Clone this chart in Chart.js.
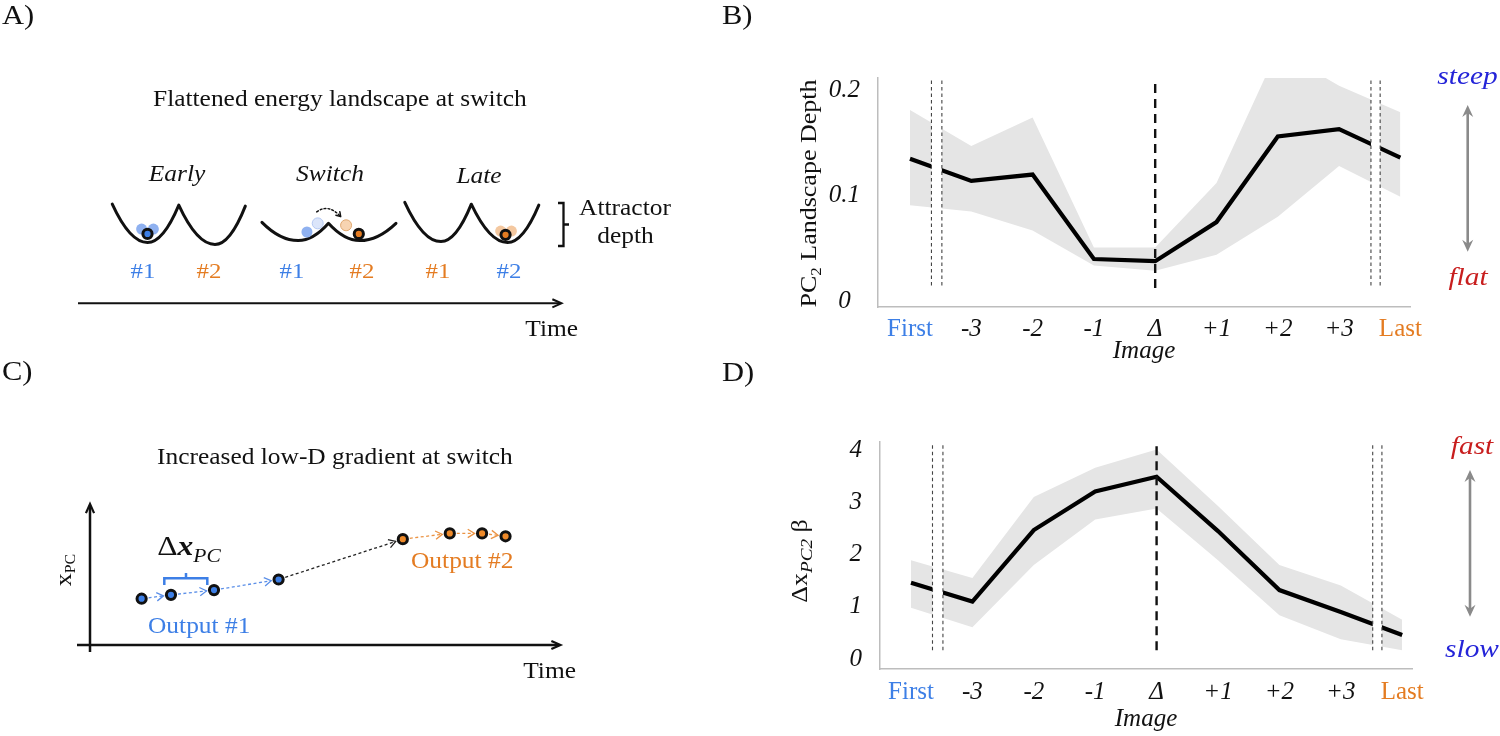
<!DOCTYPE html>
<html>
<head>
<meta charset="utf-8">
<title>Energy landscape and low-D gradient at switch</title>
<script src="https://cdn.jsdelivr.net/npm/chart.js"></script>
<style>
  body { margin: 0; background: #fff; }
  .figure { position: relative; width: 1500px; height: 736px; overflow: hidden; background: #fff; }
  .figure canvas { position: absolute; }
  #panelA { left: 0; top: 0; }
  #panelC { left: 0; top: 350px; }
  #panelB { left: 700px; top: 0; }
  #panelD { left: 700px; top: 350px; }
</style>
</head>
<body>
<div class="figure">
  <canvas id="panelA" width="700" height="370"></canvas>
  <canvas id="panelC" width="700" height="386"></canvas>
  <canvas id="panelB" width="800" height="370"></canvas>
  <canvas id="panelD" width="800" height="386"></canvas>
</div>

<script>
// ---------- data ----------
const imageLabels = ['First', '-3', '-2', '-1', 'Δ', '+1', '+2', '+3', 'Last'];
const imagePos = [0, 1, 2, 3, 4, 5, 6, 7, 8];
const switchPos = 4;
const breakPos = [0.35, 0.52, 7.52, 7.67];   // pairs of thin dashed lines

// B) PC2 landscape depth
const depthMean  = [0.135, 0.114, 0.120, 0.040, 0.038, 0.075, 0.156, 0.163, 0.136];
const depthUpper = [0.181, 0.147, 0.174, 0.051, 0.051, 0.112, 0.238, 0.204, 0.179];
const depthLower = [0.091, 0.085, 0.067, 0.034, 0.029, 0.044, 0.080, 0.128, 0.099];
const depthTicks = [0, 0.1, 0.2];

// D) gradient along PC2
const gradMean  = [1.46, 1.10, 2.47, 3.21, 3.49, 2.45, 1.32, 0.90, 0.46];
const gradUpper = [1.89, 1.55, 3.10, 3.66, 4.01, 2.93, 1.80, 1.41, 0.75];
const gradLower = [0.98, 0.61, 1.80, 2.67, 2.88, 1.89, 0.84, 0.38, 0.17];
const gradTicks = [0, 1, 2, 3, 4];

// C) schematic outputs: time step vs x_PC (arbitrary units)
const out1Time = [47, 77, 121, 187];
const out1PC   = [44, 48, 53, 64];
const out2Time = [314, 362, 395, 419];
const out2PC   = [106, 112, 112, 109];

// A) schematic wells: rim, bottom, peak, bottom, rim
const wellX = [[107, 143, 175, 212, 243], [260, 297, 328, 360, 397], [406, 443, 474, 511, 543]];
const wellY = [[205, 245, 206, 247, 207], [224, 243, 225, 243, 225], [203, 244, 205, 245, 206]];
const ballX = [143, 359, 509];
const ballY = [236, 236, 237];
const ghostX = [137, 149, 306, 317, 346, 504, 515];
const ghostY = [231, 231, 234, 225, 227, 233, 233];

// ---------- style ----------
const FONT = '"Liberation Serif", "Times New Roman", serif';
const WIDE = 1.13;   // Computer Modern runs wider than Times
const INK = '#111';
const BLUE = '#3d7fe6';
const ORANGE = '#e47c22';

function fontOf(size, italic, bold) {
  return (italic ? 'italic ' : '') + (bold ? 'bold ' : '') + size + 'px ' + FONT;
}

function say(ctx, str, x, y, size, opt = {}) {
  ctx.save();
  ctx.font = fontOf(size, opt.italic, opt.bold);
  ctx.fillStyle = opt.color || INK;
  ctx.textBaseline = 'middle';
  ctx.textAlign = opt.align || 'center';
  ctx.translate(x, y);
  ctx.scale(WIDE, 1);
  ctx.fillText(str, 0, 0);
  ctx.restore();
}

// text made of pieces (for subscripts), centred on x, baseline at y
function sayParts(ctx, parts, x, y, rot, color) {
  ctx.save();
  ctx.translate(x, y);
  if (rot) ctx.rotate(rot);
  ctx.scale(WIDE, 1);
  ctx.fillStyle = color || INK;
  ctx.textBaseline = 'alphabetic';
  ctx.textAlign = 'left';
  let total = 0;
  parts.forEach(p => { ctx.font = fontOf(p.size, p.italic, p.bold); p.w = ctx.measureText(p.t).width; total += p.w; });
  let cx = -total / 2;
  parts.forEach(p => { ctx.font = fontOf(p.size, p.italic, p.bold); ctx.fillText(p.t, cx, p.dy || 0); cx += p.w; });
  ctx.restore();
}

function chevron(ctx, x, y, ang, len, spread) {
  ctx.beginPath();
  ctx.moveTo(x - len * Math.cos(ang - spread), y - len * Math.sin(ang - spread));
  ctx.lineTo(x, y);
  ctx.lineTo(x - len * Math.cos(ang + spread), y - len * Math.sin(ang + spread));
  ctx.stroke();
}

function grayArrow(ctx, x, y0, y1) {
  ctx.save();
  ctx.strokeStyle = ctx.fillStyle = '#8a8a8a';
  ctx.lineWidth = 2.6;
  ctx.beginPath(); ctx.moveTo(x, y0 + 6); ctx.lineTo(x, y1 - 6); ctx.stroke();
  [[y0, -1], [y1, 1]].forEach(([ty, d]) => {
    ctx.beginPath();
    ctx.moveTo(x, ty);
    ctx.lineTo(x - 5.5, ty - d * 12);
    ctx.lineTo(x, ty - d * 8);
    ctx.lineTo(x + 5.5, ty - d * 12);
    ctx.closePath();
    ctx.fill();
  });
  ctx.restore();
}

// ---------- panel A ----------
const schematicA = {
  id: 'schematicA',
  beforeDatasetsDraw(chart) {
    const ctx = chart.ctx;
    const X = v => chart.scales.x.getPixelForValue(v);
    const Y = v => chart.scales.y.getPixelForValue(v);
    ctx.save();
    ctx.strokeStyle = INK;
    ctx.lineWidth = 3;
    ctx.lineCap = 'round';
    ctx.lineJoin = 'round';
    wellX.forEach((xs, w) => {
      const ys = wellY[w];
      ctx.beginPath();
      ctx.moveTo(X(xs[0]), Y(ys[0]));
      for (let k = 1; k < xs.length; k++) {
        // half parabola, flat at the bottom of each well
        ctx.quadraticCurveTo(X((xs[k - 1] + xs[k]) / 2), Y(Math.max(ys[k - 1], ys[k])), X(xs[k]), Y(ys[k]));
      }
      ctx.stroke();
    });

    // dotted hop over the barrier
    ctx.lineWidth = 1.5;
    ctx.setLineDash([1.8, 2.2]);
    ctx.beginPath();
    ctx.moveTo(X(316), Y(213));
    ctx.quadraticCurveTo(X(328), Y(204), X(340.5), Y(218));
    ctx.stroke();
    ctx.setLineDash([]);
    chevron(ctx, X(340.5), Y(218), Math.atan2(14, 12.5), 5, 0.55);

    // bracket for attractor depth
    ctx.lineWidth = 2.3;
    ctx.lineCap = 'butt';
    ctx.lineJoin = 'miter';
    ctx.beginPath();
    ctx.moveTo(558, 203); ctx.lineTo(563.5, 203); ctx.lineTo(563.5, 246); ctx.lineTo(558, 246);
    ctx.moveTo(563.5, 224.5); ctx.lineTo(569, 224.5);
    ctx.stroke();

    // time axis
    ctx.lineWidth = 2;
    ctx.beginPath(); ctx.moveTo(78, 303.3); ctx.lineTo(560, 303.3); ctx.stroke();
    chevron(ctx, 561.5, 303.3, 0, 10, 0.42);
    ctx.restore();
  },
  afterDraw(chart) {
    const ctx = chart.ctx;
    say(ctx, 'A)', 2, 17, 27, { align: 'left' });
    say(ctx, 'Flattened energy landscape at switch', 153, 100, 22.5, { align: 'left' });
    say(ctx, 'Early', 177, 175, 22.5, { italic: true });
    say(ctx, 'Switch', 330, 175, 22.5, { italic: true });
    say(ctx, 'Late', 479, 177, 22.5, { italic: true });
    [[143, '#1', BLUE], [209, '#2', ORANGE], [292, '#1', BLUE], [362, '#2', ORANGE], [438, '#1', ORANGE], [509, '#2', BLUE]]
      .forEach(([x, t, c]) => say(ctx, t, x, 272, 22, { color: c }));
    say(ctx, 'Attractor', 625, 209, 22.5);
    say(ctx, 'depth', 625.5, 237, 22.5);
    say(ctx, 'Time', 551.7, 330, 22.5);
  }
};

new Chart(document.getElementById('panelA'), {
  type: 'scatter',
  data: {
    datasets: [
      {
        data: ballX.map((x, i) => ({ x, y: ballY[i] })),
        backgroundColor: [BLUE, ORANGE, ORANGE],
        borderColor: INK, borderWidth: 3, pointRadius: 4.6
      },
      {
        data: ghostX.map((x, i) => ({ x, y: ghostY[i] })),
        backgroundColor: ['#8fb1f0', '#8fb1f0', '#8fb1f0', '#dbe5fa', '#f7d4b2', '#f4c8a0', '#f4c8a0'],
        borderColor: ['#8fb1f0', '#8fb1f0', '#8fb1f0', '#b4c8f2', '#e0a870', '#f4c8a0', '#f4c8a0'],
        borderWidth: [0, 0, 0, 1, 1, 0, 0],
        pointRadius: 5.5
      }
    ]
  },
  options: {
    responsive: false, animation: false,
    layout: { padding: 0 },
    plugins: { legend: { display: false }, tooltip: { enabled: false } },
    scales: {
      x: { type: 'linear', min: 0, max: 700, display: false },
      y: { type: 'linear', min: 0, max: 370, reverse: true, display: false }
    }
  },
  plugins: [schematicA]
});

// ---------- panel C ----------
const schematicC = {
  id: 'schematicC',
  beforeDatasetsDraw(chart) {
    const ctx = chart.ctx;
    const pts = [...chart.getDatasetMeta(0).data, ...chart.getDatasetMeta(1).data].map(p => ({ x: p.x, y: p.y }));
    const n1 = out1Time.length;
    ctx.save();
    for (let i = 0; i < pts.length - 1; i++) {
      const a = pts[i], b = pts[i + 1];
      const color = i < n1 - 1 ? '#5b8fe8' : i === n1 - 1 ? '#222' : '#eb9445';
      const dx = b.x - a.x, dy = b.y - a.y, L = Math.hypot(dx, dy), ux = dx / L, uy = dy / L;
      const ex = b.x - ux * 7.5, ey = b.y - uy * 7.5;
      ctx.strokeStyle = color;
      ctx.lineWidth = 1.3;
      ctx.setLineDash([3, 2.5]);
      ctx.beginPath(); ctx.moveTo(a.x + ux * 7, a.y + uy * 7); ctx.lineTo(ex, ey); ctx.stroke();
      ctx.setLineDash([]);
      chevron(ctx, ex, ey, Math.atan2(dy, dx), 8, 0.55);
    }
    ctx.restore();

    // axes with arrows
    ctx.save();
    ctx.translate(0, -350);
    ctx.strokeStyle = INK;
    ctx.lineWidth = 2.5;
    ctx.beginPath();
    ctx.moveTo(90, 652); ctx.lineTo(90, 506);
    ctx.moveTo(77, 645); ctx.lineTo(559, 645);
    ctx.stroke();
    ctx.lineWidth = 2.2;
    chevron(ctx, 90, 504, -Math.PI / 2, 10, 0.42);
    chevron(ctx, 560.5, 645, 0, 10, 0.42);

    // bracket over one step
    ctx.strokeStyle = BLUE;
    ctx.lineWidth = 2.5;
    ctx.beginPath();
    ctx.moveTo(164.3, 585); ctx.lineTo(164.3, 578.3); ctx.lineTo(207.3, 578.3); ctx.lineTo(207.3, 585);
    ctx.moveTo(186, 578.3); ctx.lineTo(186, 573);
    ctx.stroke();
    ctx.restore();
  },
  afterDraw(chart) {
    const ctx = chart.ctx;
    ctx.save();
    ctx.translate(0, -350);
    say(ctx, 'C)', 2, 373, 27, { align: 'left' });
    say(ctx, 'Increased low-D gradient at switch', 157, 458, 22.5, { align: 'left' });
    say(ctx, 'Time', 549.6, 671.7, 22.5);
    say(ctx, 'Output #1', 148, 626.7, 22.5, { align: 'left', color: BLUE });
    say(ctx, 'Output #2', 411, 561.7, 22.5, { align: 'left', color: ORANGE });
    sayParts(ctx, [{ t: 'Δ', size: 28 }, { t: 'x', size: 28, italic: true, bold: true }, { t: 'PC', size: 19, italic: true, dy: 7 }], 189, 555);
    sayParts(ctx, [{ t: 'x', size: 23 }, { t: 'PC', size: 14, dy: 4 }], 71, 570, -Math.PI / 2);
    ctx.restore();
  }
};

new Chart(document.getElementById('panelC'), {
  type: 'scatter',
  data: {
    datasets: [
      { label: 'Output #1', data: out1Time.map((t, i) => ({ x: t, y: out1PC[i] })), backgroundColor: BLUE, borderColor: INK, borderWidth: 3, pointRadius: 4.6 },
      { label: 'Output #2', data: out2Time.map((t, i) => ({ x: t, y: out2PC[i] })), backgroundColor: '#ee8a2a', borderColor: INK, borderWidth: 3, pointRadius: 4.6 }
    ]
  },
  options: {
    responsive: false, animation: false,
    layout: { padding: 0 },
    plugins: { legend: { display: false }, tooltip: { enabled: false } },
    scales: {
      x: { type: 'linear', min: -90, max: 610, display: false },
      y: { type: 'linear', min: -91, max: 295, display: false }
    }
  },
  plugins: [schematicC]
});

// ---------- panels B and D ----------
function trialExtras(cfg) {
  return {
    id: 'trialExtras',
    afterDatasetDraw(chart, args) {
      // white gap between each pair of thin dashed lines
      if (chart.data.datasets[args.index].label !== 'mean') return;
      const { ctx, chartArea: a, scales: { x } } = chart;
      ctx.save();
      ctx.fillStyle = '#fff';
      for (let k = 0; k < breakPos.length; k += 2) {
        const x0 = x.getPixelForValue(breakPos[k]), x1 = x.getPixelForValue(breakPos[k + 1]);
        ctx.fillRect(x0, a.top, x1 - x0, a.bottom - a.top - 2);
      }
      ctx.restore();
    },
    afterDraw(chart) {
      const ctx = chart.ctx;
      ctx.save();
      ctx.translate(-cfg.left, -cfg.pageTop);
      say(ctx, cfg.letter, 722, cfg.letterY, 27, { align: 'left' });
      sayParts(ctx, cfg.yTitle, cfg.yTitleX, cfg.yTitleY, -Math.PI / 2);
      const ar = cfg.arrow;
      grayArrow(ctx, ar.x, ar.y0, ar.y1);
      say(ctx, ar.top[0], ar.top[2], ar.top[3], 26, { italic: true, color: ar.top[1] });
      say(ctx, ar.bottom[0], ar.bottom[2], ar.bottom[3], 26, { italic: true, color: ar.bottom[1] });
      ctx.restore();
    }
  };
}

function trialChart(id, cfg) {
  const pts = ys => imagePos.map((x, i) => ({ x, y: ys[i] }));
  const guide = (x, span) => [{ x, y: span[0] }, { x, y: span[1] }];
  const datasets = [
    { label: 'switch', data: guide(switchPos, cfg.switchSpan), borderColor: INK, borderWidth: 2.4, borderDash: [9, 6], order: 0 },
    ...breakPos.map(x => ({ label: 'break', data: guide(x, cfg.breakSpan), borderColor: '#444', borderWidth: 1.1, borderDash: [3.5, 3], order: 0 })),
    { label: 'mean', data: pts(cfg.mean), borderColor: '#000', borderWidth: 4.2, order: 1 },
    { label: 'upper', data: pts(cfg.upper), borderWidth: 0, borderColor: 'rgba(0,0,0,0)', backgroundColor: '#e5e5e5', fill: '+1', order: 2 },
    { label: 'lower', data: pts(cfg.lower), borderWidth: 0, borderColor: 'rgba(0,0,0,0)', fill: false, order: 2 }
  ];
  return new Chart(document.getElementById(id), {
    type: 'line',
    data: { datasets },
    options: {
      responsive: false, animation: false,
      layout: { padding: { left: 0, top: cfg.top, right: cfg.right, bottom: 0 } },
      elements: { point: { radius: 0 }, line: { tension: 0 } },
      plugins: { legend: { display: false }, tooltip: { enabled: false } },
      scales: {
        x: {
          type: 'linear', min: cfg.xMin, max: cfg.xMax,
          grid: { display: false, drawTicks: false },
          border: { color: '#bdbdbd', width: 1.5 },
          afterBuildTicks: s => { s.ticks = imagePos.map(v => ({ value: v })); },
          afterFit: s => { s.height = cfg.xAxisHeight; },
          ticks: {
            autoSkip: false, maxRotation: 0, minRotation: 0, padding: cfg.xTickPad,
            callback: (v, i) => imageLabels[i],
            color: c => c.index === 0 ? BLUE : c.index === imageLabels.length - 1 ? ORANGE : INK,
            font: c => ({ family: FONT, size: 25, style: (c.index === 0 || c.index === imageLabels.length - 1) ? 'normal' : 'italic' })
          },
          title: {
            display: true, text: 'Image', color: INK,
            font: { family: FONT, size: 25, style: 'italic' },
            padding: { top: 0, bottom: cfg.titlePad }
          }
        },
        y: {
          type: 'linear', min: cfg.yMin, max: cfg.yMax,
          grid: { display: false, drawTicks: false },
          border: { color: '#bdbdbd', width: 1.5 },
          afterBuildTicks: s => { s.ticks = cfg.ticks.map(v => ({ value: v })); },
          afterFit: s => { s.width = cfg.yAxisWidth; },
          ticks: {
            padding: 18, crossAlign: 'center', color: INK,
            font: { family: FONT, size: 25, style: 'italic' },
            callback: v => String(v)
          }
        }
      }
    },
    plugins: [trialExtras(cfg)]
  });
}

trialChart('panelB', {
  letter: 'B)', letterY: 17, left: 700, pageTop: 0,
  top: 78, right: 90, yAxisWidth: 178, xAxisHeight: 63, xTickPad: 7, titlePad: 3.6,
  xMin: -0.522, xMax: 8.157, yMin: -0.0054, yMax: 0.2114, ticks: depthTicks,
  mean: depthMean, upper: depthUpper, lower: depthLower,
  switchSpan: [0.0126, 0.207], breakSpan: [0.015, 0.2114],
  yTitle: [{ t: 'PC', size: 23 }, { t: '2', size: 15, dy: 5 }, { t: ' Landscape Depth', size: 23 }],
  yTitleX: 816, yTitleY: 193.5,
  arrow: { x: 1467.7, y0: 105, y1: 251.7, top: ['steep', '#2424d8', 1467.5, 76.7], bottom: ['flat', '#c81e1e', 1468, 278.3] }
});

trialChart('panelD', {
  letter: 'D)', letterY: 374, left: 700, pageTop: 350,
  top: 92, right: 88, yAxisWidth: 180, xAxisHeight: 67, xTickPad: 8.3, titlePad: 1.6,
  xMin: -0.505, xMax: 8.16, yMin: -0.191, yMax: 4.155, ticks: gradTicks,
  mean: gradMean, upper: gradUpper, lower: gradLower,
  switchSpan: [0.17, 4.155], breakSpan: [0.17, 4.13],
  yTitle: [{ t: 'Δx', size: 23 }, { t: 'PC2', size: 17, italic: true, dy: 5 }, { t: ' β', size: 23 }],
  yTitleX: 807, yTitleY: 561,
  arrow: { x: 1470, y0: 470, y1: 616.7, top: ['fast', '#c81e1e', 1472, 446.7], bottom: ['slow', '#2424d8', 1472, 650] }
});
</script>
</body>
</html>
